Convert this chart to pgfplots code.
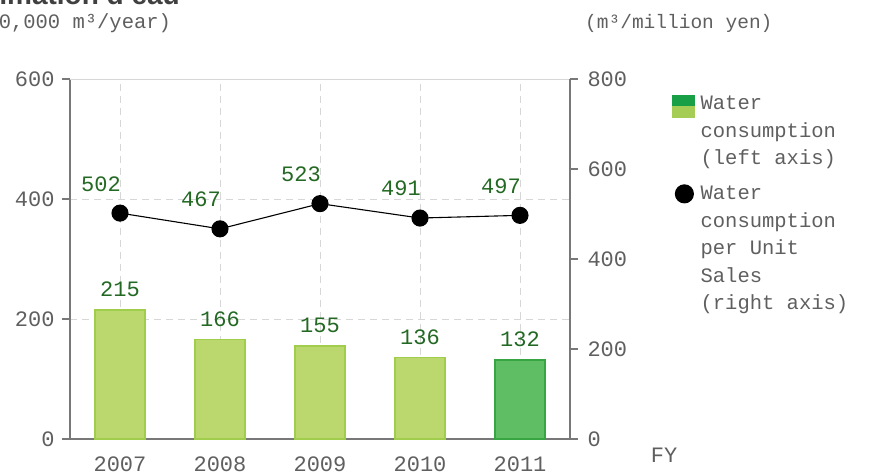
\documentclass[border=0pt]{standalone}
\usepackage{pgfplots}
\pgfplotsset{compat=1.18}
\usepackage{fontspec}
\setmainfont{Liberation Sans}
\setmonofont{Liberation Mono}
\definecolor{axgray}{RGB}{120,120,120}
\definecolor{txtgray}{RGB}{95,95,95}
\definecolor{gridgray}{RGB}{215,215,215}
\definecolor{lblgreen}{RGB}{35,105,35}
\definecolor{barfill}{RGB}{186,216,110}
\definecolor{barline}{RGB}{160,205,75}
\definecolor{bartwofill}{RGB}{95,190,100}
\definecolor{bartwoline}{RGB}{55,165,65}
\definecolor{legdark}{RGB}{25,160,70}
\definecolor{leglight}{RGB}{165,205,85}
\newcommand{\tf}{\ttfamily\fontsize{20.5}{27.5}\selectfont}
\newcommand{\tkf}{\ttfamily\fontsize{22}{26}\selectfont}
\begin{document}
\begin{tikzpicture}[x=1pt,y=1pt]
\useasboundingbox (0,0) rectangle (878,474);
\node[anchor=base east, inner sep=0pt, text depth=0pt, font=\bfseries\fontsize{28}{30}\selectfont, text=black!75] at (180,469) {Consommation d'eau};
\node[anchor=west, inner sep=0pt, font=\tf, text=txtgray] at (-26,451) {(10,000 m³/year)};
\node[anchor=west, inner sep=0pt, font=\ttfamily\fontsize{19.5}{24}\selectfont, text=txtgray] at (585,451) {(m³/million yen)};
\node[font=\tkf, text=txtgray] at (664,19) {FY};

\begin{axis}[
  at={(70pt,35pt)}, anchor=south west, scale only axis, width=500pt, height=360pt,
  xmin=-0.5, xmax=4.5, ymin=0, ymax=600,
  axis x line*=bottom, axis y line*=left,
  axis line style={draw=axgray, line width=1.2pt},
  xtick={0,1,2,3,4}, xticklabels={2007,2008,2009,2010,2011},
  ytick={0,200,400}, extra y ticks={600},
  extra y tick style={grid style={solid, draw=gridgray, line width=1pt}},
  tick align=outside, major tick length=8pt,
  x tick style={draw=none}, y tick style={draw=axgray, line width=1.2pt},
  xmajorgrids, ymajorgrids,
  grid style={dash pattern=on 7pt off 5pt, draw=gridgray, line width=1pt},
  ticklabel style={font=\tkf, text=txtgray},
  xticklabel style={yshift=-6pt},
  yticklabel style={xshift=-4pt},
  /pgf/number format/assume math mode=true,
  clip=false,
]
\addplot[ybar, bar width=50pt, fill=barfill, draw=barline, line width=1.5pt,
  nodes near coords, every node near coord/.append style={font=\tkf, text=lblgreen, yshift=9pt}]
  coordinates {(0,215) (1,166) (2,155) (3,136)};
\addplot[ybar, bar width=50pt, fill=bartwofill, draw=bartwoline, line width=1.5pt,
  nodes near coords, every node near coord/.append style={font=\tkf, text=lblgreen, yshift=9pt}]
  coordinates {(4,132)};
\end{axis}

\begin{axis}[
  at={(70pt,35pt)}, anchor=south west, scale only axis, width=500pt, height=360pt,
  xmin=-0.5, xmax=4.5, ymin=0, ymax=800,
  axis x line=none, axis y line*=right,
  axis line style={draw=axgray, line width=1.2pt},
  ytick={0,200,400,600,800},
  tick align=outside, major tick length=8pt,
  y tick style={draw=axgray, line width=1.2pt},
  ticklabel style={font=\tkf, text=txtgray},
  yticklabel style={xshift=6pt},
  /pgf/number format/assume math mode=true,
  legend style={at={(1.204,0.956)}, anchor=north west, draw=none, fill=none, inner sep=0pt,
    row sep=18pt, column sep=6pt, nodes={align=left, inner sep=0pt, font=\tf, text=txtgray}},
  legend cell align=left,
  clip=false,
]
\addlegendimage{legend image code/.code={\path[draw=none] (0pt,0pt) rectangle (22pt,0pt);
  \fill[legdark] (0pt,25pt) rectangle (22pt,36pt);
  \fill[leglight] (0pt,14pt) rectangle (22pt,25pt);}}
\addlegendentry{Water\\consumption\\(left axis)}
\addplot[black, line width=1.1pt, mark=*, mark size=8pt, mark options={fill=black},
  nodes near coords, every node near coord/.append style={font=\tkf, text=lblgreen, xshift=-19pt, yshift=18pt},
  legend image code/.code={\path[draw=none] (0pt,0pt) rectangle (22pt,0pt);
  \fill[black] (12pt,55pt) circle (9pt);}]
  coordinates {(0,502) (1,467) (2,523) (3,491) (4,497)};
\addlegendentry{Water\\consumption\\per Unit\\Sales\\(right axis)}
\end{axis}
\end{tikzpicture}
\end{document}
